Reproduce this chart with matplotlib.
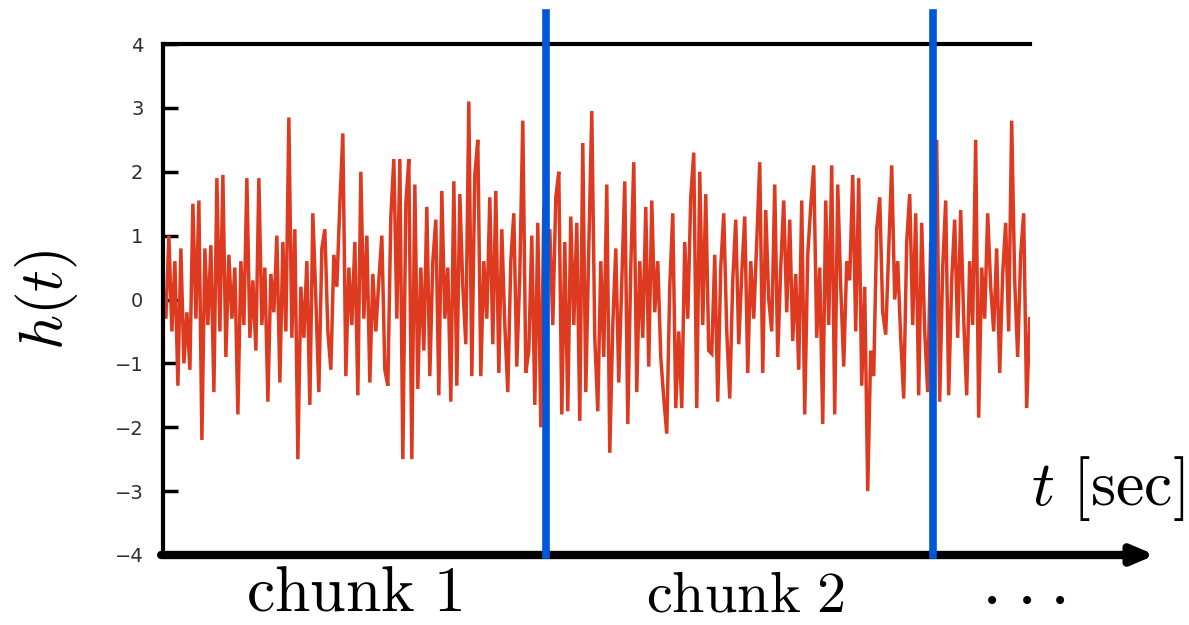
import numpy as np
import matplotlib
matplotlib.use("Agg")
from matplotlib import pyplot as plt

plt.rcParams["mathtext.fontset"] = "cm"

# strain samples h(t), one per time step
h = [
    0.2, -0.3, 1.0, -0.5, 0.6, -1.35, 0.8, -1.0, -0.2, -1.1,
    1.5, -0.3, 1.55, -2.2, 0.8, -0.4, 0.85, -1.45, 1.9, -0.5,
    1.95, -0.9, 0.7, -0.3, 0.5, -1.8, 0.6, -0.4, 1.9, -0.6,
    0.3, -0.8, 1.9, -0.4, 0.5, -1.6, 0.4, -0.2, 1.0, -1.3,
    0.9, -0.5, 2.85, -0.6, 1.1, -2.5, 0.2, -0.6, 0.6, -1.65,
    1.35, 0.0, -1.45, 0.8, 1.1, -0.5, -1.1, 0.7, 0.2, 1.5,
    2.6, -1.2, 0.5, -0.4, 0.9, -1.5, 2.0, -0.3, 1.0, -1.3,
    0.4, -0.5, 0.3, 1.0, -1.1, -1.35, 1.3, 2.2, -0.3, 2.2,
    -2.5, 1.5, 2.2, -2.5, 1.8, -1.4, 0.5, -0.8, 1.45, -1.2,
    0.6, 1.25, -1.5, 1.7, -0.3, 0.5, -1.6, 1.85, -1.35, 1.65,
    0.2, -0.7, 3.1, -1.2, 1.95, 2.5, -1.2, 0.6, -0.3, 1.6,
    -0.7, 1.7, -1.15, 1.1, -0.4, -1.45, 0.6, 1.35, -1.05, 0.4,
    2.8, -1.15, -0.8, 1.0, -1.65, 1.2, -2.0, 1.45, 0.2, 1.1,
    -0.4, 1.6, 2.0, -1.8, 0.9, -1.75, 1.3, -0.4, 1.2, -1.9,
    2.45, -1.45, 0.8, 2.95, -0.6, -1.75, 0.6, -0.9, 1.8, -2.4,
    -0.4, 0.8, -1.3, 0.3, 1.85, -1.95, 0.5, 2.15, -1.45, 0.6,
    -0.6, 1.45, -1.05, 1.55, -0.2, 0.6, -0.9, -1.55, -2.1, 0.2,
    1.35, -1.7, -0.5, -1.7, 0.9, -0.3, 1.6, 2.3, -1.7, 2.0,
    -0.4, 1.65, -0.8, -0.85, 0.7, -1.6, 0.5, 1.35, -0.5, -1.55,
    0.3, 1.25, -0.7, 0.4, 1.3, -1.15, 0.6, -0.3, 0.9, 2.15,
    -1.15, 1.4, 0.0, -0.5, 1.8, -0.9, 0.5, 1.55, -0.2, 1.25,
    -0.65, 0.4, -1.1, 1.55, -1.8, 0.7, 1.45, 2.1, -0.6, 0.5,
    -1.95, 1.55, -0.4, 2.1, -1.8, 1.8, 0.2, -1.05, 0.6, 0.3,
    1.95, -0.5, 1.9, -1.35, 0.2, -3.0, -0.8, -1.2, 1.1, 1.6,
    -0.2, -0.55, 0.8, 2.1, 0.0, 0.6, -0.6, -1.55, 0.9, 1.65,
    -0.4, 1.35, -1.5, 1.2, -0.5, -1.45, 0.9, 0.3, 2.5, -1.6,
    0.5, 1.55, -1.5, 0.3, 1.25, -0.6, 1.4, -0.3, -1.5, 0.6,
    -0.4, 2.5, -1.85, 0.5, -0.3, 1.35, 0.2, -0.5, 0.8, -1.15,
    0.4, 1.2, -0.5, 2.8, 0.3, -0.9, 0.7, 1.35, -1.7, -0.3,
]
t = np.arange(len(h))

chunk_edges = [127.7, 256.7]
chunk_labels = ["chunk 1", "chunk 2"]
yticks = [-4, -3, -2, -1, 0, 1, 2, 3, 4]

fig = plt.figure(figsize=(11.89, 6.25), dpi=100)
ax = fig.add_axes([0.137, 0.112, 0.729, 0.8176])

ax.plot(t, h, color="#de3a20", lw=2.5, solid_joinstyle="miter")
ax.set_xlim(t[0], t[-1])
ax.set_ylim(-4, 4)

for edge in chunk_edges:
    ax.axvline(edge, ymin=0, ymax=1.06, color="#0057d9", lw=5.5,
               clip_on=False, zorder=5)

# frame: left and top only, bottom replaced by an arrow
for side in ["right", "bottom"]:
    ax.spines[side].set_visible(False)
ax.spines["left"].set_linewidth(3)
ax.spines["top"].set_linewidth(3)
ax.annotate("", xy=(1.145, 0), xytext=(-0.002, 0),
            xycoords="axes fraction",
            arrowprops=dict(arrowstyle="-|>,head_length=1.3,head_width=0.55",
                            lw=6, color="black", shrinkA=0, shrinkB=0),
            annotation_clip=False)

ax.set_xticks([])
ax.set_yticks(yticks)
ax.set_yticklabels([str(v).replace("-", "\u2212") for v in yticks])
ax.tick_params(axis="y", direction="in", length=11, width=2.5,
               pad=14, labelsize=14, labelcolor="#2e2e2e")

ax.set_ylabel(r"$h(t)$", fontsize=44)
ax.yaxis.set_label_coords(-0.096, 0.5)
ax.text(1.179, 0.13, r"$t\ [\mathrm{sec}]$", transform=ax.transAxes,
        fontsize=46, ha="right", va="center")

mids = [chunk_edges[0] / 2, (chunk_edges[0] + chunk_edges[1]) / 2 + 2]
for m, lab, fs in zip(mids, chunk_labels, [46, 42]):
    ax.text(m, -0.134, r"$\mathrm{" + lab.replace(" ", r"\ ") + "}$",
            transform=ax.get_xaxis_transform(), fontsize=fs,
            ha="center", va="bottom")
# trailing dots after the last chunk
for xf in [0.957, 0.9965, 1.035]:
    ax.text(xf, -0.092, "\u2022", transform=ax.transAxes,
            fontsize=20, ha="center", va="center", family="DejaVu Sans")

fig.savefig("out.png", dpi=100)
